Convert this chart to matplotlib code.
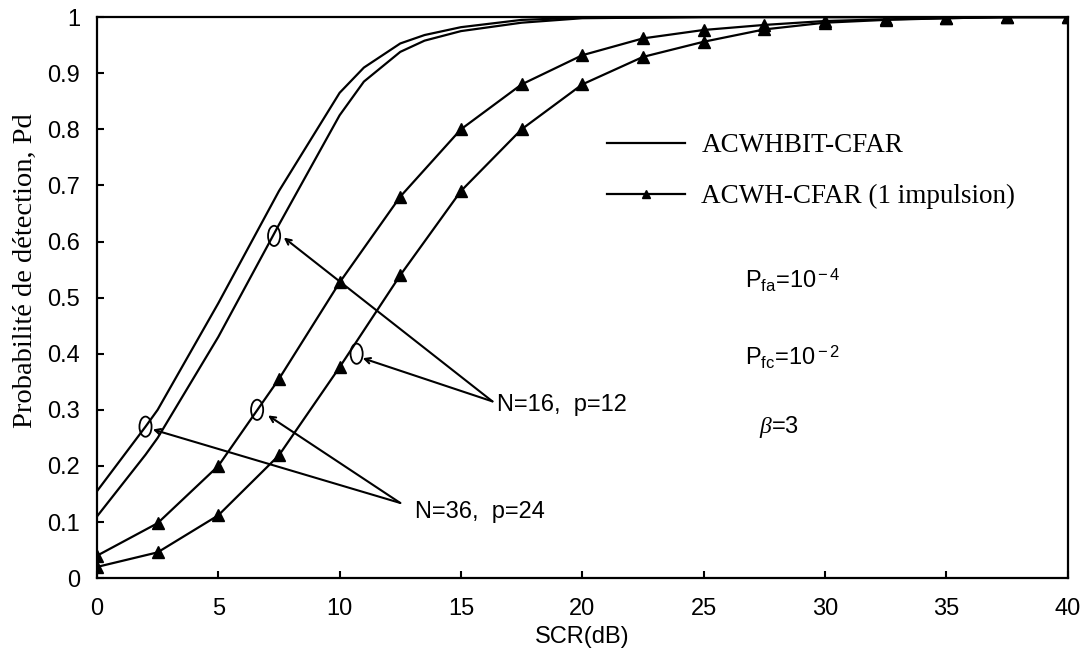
import matplotlib.pyplot as plt
import numpy as np
from matplotlib.patches import Ellipse

plt.rcParams['font.family'] = ['Liberation Sans', 'DejaVu Sans']
plt.rcParams['mathtext.fontset'] = 'custom'
plt.rcParams['mathtext.rm'] = 'Liberation Sans'
plt.rcParams['mathtext.it'] = 'Liberation Serif:italic'

# ACWHBIT-CFAR (solid, no markers)
x_bit = [0, 2, 2.5, 5, 7.5, 10, 11, 12.5, 13.5, 15, 17.5, 20, 25, 30, 35, 40]
pd_bit36 = [0.155, 0.27, 0.30, 0.49, 0.69, 0.865, 0.91, 0.953, 0.968, 0.982, 0.995, 0.999, 1.0, 1.0, 1.0, 1.0]
pd_bit16 = [0.11, 0.22, 0.25, 0.43, 0.63, 0.825, 0.885, 0.938, 0.958, 0.975, 0.99, 0.998, 1.0, 1.0, 1.0, 1.0]

# ACWH-CFAR (1 impulsion), markers every 2.5 dB
x_cw = [0, 2.5, 5, 7.5, 10, 12.5, 15, 17.5, 20, 22.5, 25, 27.5, 30, 32.5, 35, 37.5, 40]
pd_cw36 = [0.04, 0.098, 0.20, 0.355, 0.527, 0.68, 0.80, 0.88, 0.932, 0.962, 0.977, 0.986, 0.993, 0.996, 0.998, 1.0, 1.0]
pd_cw16 = [0.02, 0.046, 0.112, 0.219, 0.376, 0.54, 0.69, 0.80, 0.88, 0.929, 0.956, 0.978, 0.99, 0.995, 0.998, 1.0, 1.0]

fig = plt.figure(figsize=(10.86, 6.57), dpi=100)
ax = fig.add_axes([0.0893, 0.120, 0.8937, 0.854])

ax.plot(x_bit, pd_bit36, color='k', lw=1.6, label='ACWHBIT-CFAR')
ax.plot(x_bit, pd_bit16, color='k', lw=1.6)
ax.plot(x_cw, pd_cw36, color='k', lw=1.6, marker='^', ms=9, label='ACWH-CFAR (1 impulsion)')
ax.plot(x_cw, pd_cw16, color='k', lw=1.6, marker='^', ms=9)

# circles marking the curves
for (cx, cy) in [(2.0, 0.27), (7.3, 0.61), (6.6, 0.30), (10.7, 0.40)]:
    ax.add_patch(Ellipse((cx, cy), 0.5, 0.036, fill=False, ec='k', lw=1.3))

arr = dict(arrowstyle='->', color='k', lw=1.5, shrinkA=0, shrinkB=0)
ax.annotate('', xy=(7.7, 0.607), xytext=(16.3, 0.315), arrowprops=arr)
ax.annotate('', xy=(10.95, 0.392), xytext=(16.3, 0.315), arrowprops=arr)
ax.annotate('', xy=(2.3, 0.265), xytext=(12.5, 0.134), arrowprops=arr)
ax.annotate('', xy=(7.05, 0.29), xytext=(12.5, 0.134), arrowprops=arr)
ax.text(16.5, 0.308, 'N=16,  p=12', fontsize=17, va='center', ha='left')
ax.text(13.1, 0.118, 'N=36,  p=24', fontsize=17, va='center', ha='left')

ax.text(26.7, 0.53, r'P$_{\rm fa}$=10$^{\rm -4}$', fontsize=17, va='center')
ax.text(26.7, 0.394, r'P$_{\rm fc}$=10$^{\rm -2}$', fontsize=17, va='center')
ax.text(27.3, 0.27, r'$\beta$=3', fontsize=17, va='center')

leg = ax.legend(loc='center left', bbox_to_anchor=(0.5, 0.725), frameon=False,
                prop={'family': 'Liberation Serif', 'size': 19.5},
                handlelength=2.9, labelspacing=0.95, handletextpad=0.6, markerscale=0.7)

ax.set_xlim(0, 40)
ax.set_ylim(0, 1)
ax.set_xticks(np.arange(0, 41, 5))
ax.set_yticks(np.arange(0, 1.01, 0.1))
ax.set_yticklabels(['0', '0.1', '0.2', '0.3', '0.4', '0.5', '0.6', '0.7', '0.8', '0.9', '1'])
ax.tick_params(direction='in', labelsize=17, width=1.5, length=5)
ax.tick_params(axis='x', pad=14)
ax.tick_params(axis='y', pad=12)
for s in ax.spines.values():
    s.set_linewidth(1.6)

ax.set_xlabel('SCR(dB)', fontsize=17)
ax.xaxis.set_label_coords(0.5, -0.085)
ax.set_ylabel('Probabilité de détection, Pd', fontsize=20.5, family='Liberation Serif')
ax.yaxis.set_label_coords(-0.061, 0.549)

fig.savefig('out.png', dpi=100)
